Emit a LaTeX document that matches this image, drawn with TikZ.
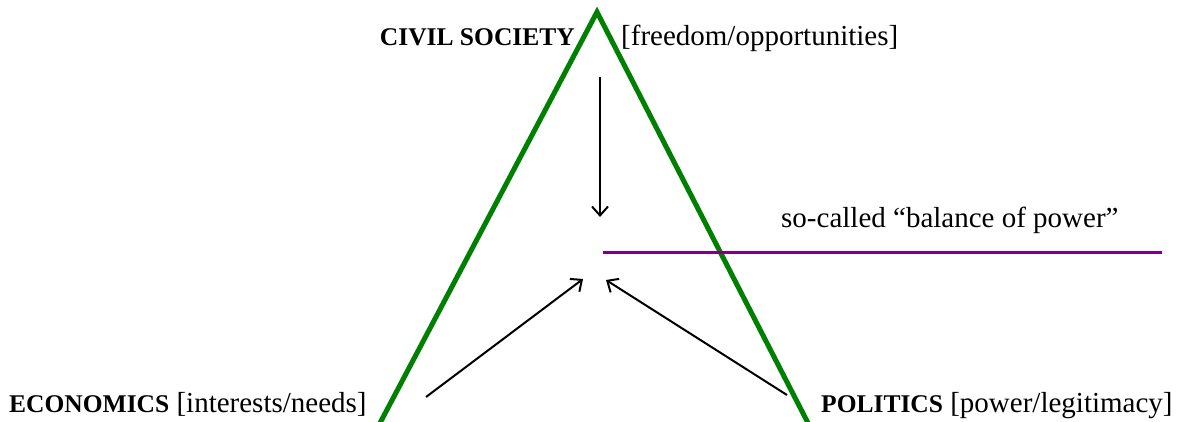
\documentclass[tikz,border=0pt]{standalone}
\usepackage{fontspec}
\setmainfont{Liberation Serif}
\usetikzlibrary{arrows.meta}
\definecolor{tgreen}{RGB}{0,128,0}
\definecolor{tpurple}{RGB}{128,0,128}
\newcommand{\bhead}[1]{\textbf{\fontsize{25.5}{30}\selectfont #1}}
\tikzset{
  lbl/.style={anchor=base west, inner sep=0pt, font=\fontsize{29}{34}\selectfont},
  side/.style={line width=5pt, draw=tgreen},
  influence/.style={line width=2pt, -{Straight Barb[length=9pt,width=16pt,line width=2pt]}},
  balance/.style={line width=3pt, draw=tpurple}
}
\begin{document}
\begin{tikzpicture}[x=1pt,y=-1pt]
\useasboundingbox (0,0) rectangle (1184,421);
% triangle
\coordinate (apex) at (597,12);
\coordinate (lfoot) at (380,423);
\coordinate (rfoot) at (808,423);
\draw[side] (lfoot) -- (apex) -- (rfoot);
% labels
\node[lbl, anchor=base east] (cs) at (575,45) {\bhead{CIVIL SOCIETY}};
\node[lbl] (fo) at (621,45) {[freedom/opportunities]};
\node[lbl] (bp) at (781,227) {so-called “balance of power”};
\node[lbl] (ec) at (9,412) {\bhead{ECONOMICS} [interests/needs]};
\node[lbl] (po) at (821,412) {\bhead{POLITICS} [power/legitimacy]};
% arrows
\coordinate (dtop) at (600,77);
\coordinate (dbot) at (600,217);
\coordinate (ls) at (426,397);
\coordinate (le) at (583,279);
\coordinate (rs) at (787,395);
\coordinate (re) at (606,280);
\draw[influence] (dtop) -- (dbot);
\draw[influence] (ls) -- (le);
\draw[influence] (rs) -- (re);
% balance line
\coordinate (bl) at (603,252);
\coordinate (br) at (1162,252);
\draw[balance] (bl) -- (br);
\end{tikzpicture}
\end{document}
